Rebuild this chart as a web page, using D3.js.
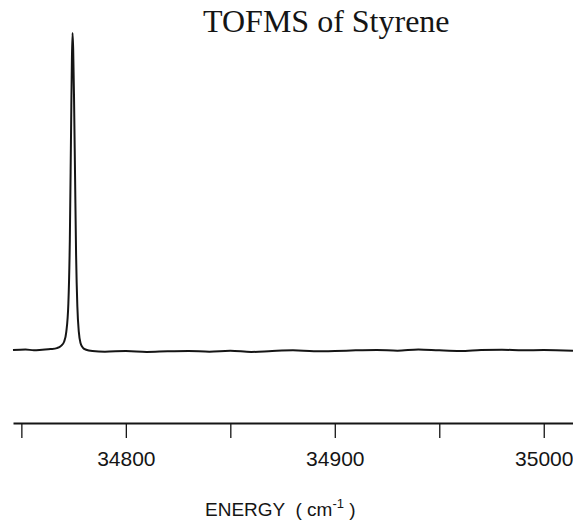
<!DOCTYPE html>
<html>
<head>
<meta charset="utf-8">
<script src="https://cdn.jsdelivr.net/npm/d3@7"></script>
<style>
	html, body { margin: 0; padding: 0; background: #fff; }
	svg { display: block; }
</style>
</head>
<body>
<div id="chart"></div>
<script>
/* spectrum: energy in cm^-1, intensity in arbitrary units (peak = 100) */
const energy = [
	34746, 34752, 34756, 34760, 34764, 34767, 34769, 34770.5, 34771.5, 34772.5,
	34773.2, 34773.8, 34774.2, 34774.5, 34774.8, 34775.2, 34775.7, 34776.2, 34776.8, 34777.5,
	34778.3, 34779.5, 34781, 34784, 34790, 34800, 34810, 34820, 34830, 34840,
	34850, 34860, 34870, 34880, 34890, 34900, 34910, 34920, 34930, 34940,
	34950, 34960, 34970, 34980, 34990, 35000, 35014
];
const intensity = [
	0.3, 0.5, 0.2, 0.4, 0.6, 0.9, 1.6, 3, 6, 15,
	35, 70, 92, 100, 95, 80, 55, 30, 14, 6,
	2.5, 1.0, 0.4, 0.0, -0.2, 0.0, -0.3, -0.1, 0.0, -0.2,
	0.1, -0.3, 0.0, 0.2, -0.1, 0.0, 0.2, 0.3, 0.1, 0.5,
	0.2, 0.0, 0.3, 0.4, 0.2, 0.3, 0.1
];
const tickValues = [34750, 34800, 34850, 34900, 34950, 35000];
const labelledTicks = [34800, 34900, 35000];
const title = "TOFMS of Styrene";

const width = 573, height = 520;
const ink = "#151515";

const svg = d3.select("#chart").append("svg")
	.attr("width", width)
	.attr("height", height);

const x = d3.scaleLinear().domain([34746, 35014]).range([13, 573]);
const y = d3.scaleLinear().domain([0, 100]).range([351, 33]);

/* title */
svg.append("text")
	.attr("x", 203)
	.attr("y", 32)
	.attr("font-family", "'Liberation Serif', 'Times New Roman', serif")
	.attr("font-size", "32px")
	.attr("fill", ink)
	.text(title);

/* spectrum trace */
const points = energy.map((e, i) => [e, intensity[i]]);
svg.append("path")
	.datum(points)
	.attr("fill", "none")
	.attr("stroke", ink)
	.attr("stroke-width", 2)
	.attr("stroke-linejoin", "round")
	.attr("d", d3.line().x(d => x(d[0])).y(d => y(d[1])).curve(d3.curveMonotoneX));

/* energy axis */
const axis = svg.append("g")
	.attr("transform", "translate(0,423)")
	.call(d3.axisBottom(x)
		.tickValues(tickValues)
		.tickSize(15)
		.tickSizeOuter(0)
		.tickPadding(13)
		.tickFormat(d => labelledTicks.includes(d) ? d : ""));

axis.select(".domain").attr("stroke", ink).attr("stroke-width", 2);
axis.selectAll(".tick line").attr("stroke", ink).attr("stroke-width", 1.3);
axis.selectAll(".tick text")
	.attr("font-family", "'Liberation Sans', Arial, sans-serif")
	.attr("font-size", "21px")
	.attr("fill", ink);

/* axis title with superscript */
const label = svg.append("text")
	.attr("x", 205)
	.attr("y", 516)
	.attr("font-family", "'Liberation Sans', Arial, sans-serif")
	.attr("font-size", "19px")
	.attr("fill", ink)
	.attr("xml:space", "preserve");
label.append("tspan").text("ENERGY  ( cm");
label.append("tspan").attr("font-size", "13px").attr("dy", "-8").text("-1");
label.append("tspan").attr("dy", "8").text(" )");
</script>
</body>
</html>
